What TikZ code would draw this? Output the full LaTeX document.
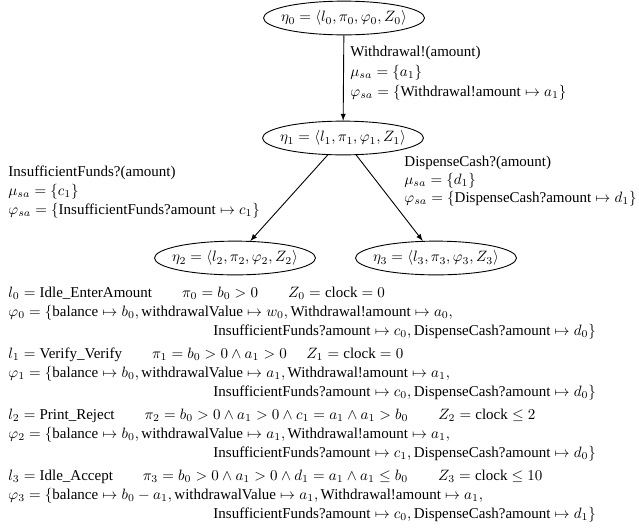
\documentclass[tikz,border=0pt]{standalone}
\usepackage{amsmath}
\usepackage{fontspec}
\setmainfont{Liberation Serif}
\usetikzlibrary{shapes.geometric}

\begin{document}
\begin{tikzpicture}[x=0.6667pt, y=-0.6667pt, >=latex, semithick,
    state/.style={ellipse, draw, inner xsep=-4pt, inner ysep=0pt, minimum height=22.5pt},
    txt/.style={anchor=base west, inner sep=0pt}]
  \useasboundingbox (0,0) rectangle (639,529);

  % states
  \node[state] (s0) at (344,18) {$\eta_0 = \langle l_0, \pi_0, \varphi_0, Z_0 \rangle$};
  \node[state] (s1) at (343,138) {$\eta_1 = \langle l_1, \pi_1, \varphi_1, Z_1 \rangle$};
  \node[state] (s2) at (235,258) {$\eta_2 = \langle l_2, \pi_2, \varphi_2, Z_2 \rangle$};
  \node[state] (s3) at (436,258) {$\eta_3 = \langle l_3, \pi_3, \varphi_3, Z_3 \rangle$};

  \draw[->] (s0) -- (s1);
  \draw[->] (s1) -- (s2);
  \draw[->] (s1) -- (s3);

  % transition labels
  \node[txt] (t01a) at (350,56) {Withdrawal!(amount)};
  \node[txt] (t01b) at (350,76) {$\mu_{sa} = \{a_1\}$};
  \node[txt] (t01c) at (350,96) {$\varphi_{sa} = \{\text{Withdrawal!amount} \mapsto a_1\}$};

  \node[txt] (t12a) at (8,176) {InsufficientFunds?(amount)};
  \node[txt] (t12b) at (8,195) {$\mu_{sa} = \{c_1\}$};
  \node[txt] (t12c) at (8,214) {$\varphi_{sa} = \{\text{InsufficientFunds?amount} \mapsto c_1\}$};

  \node[txt] (t13a) at (404,166) {DispenseCash?(amount)};
  \node[txt] (t13b) at (404,184) {$\mu_{sa} = \{d_1\}$};
  \node[txt] (t13c) at (404,202) {$\varphi_{sa} = \{\text{DispenseCash?amount} \mapsto d_1\}$};

  % state contents
  \node[txt] (e0a) at (8,297) {$l_0 = \text{Idle\_EnterAmount}$\qquad$\pi_0 = b_0 > 0$\qquad$Z_0 = \text{clock} = 0$};
  \node[txt] (e0b) at (8,316) {$\varphi_0 = \{\text{balance} \mapsto b_0, \text{withdrawalValue} \mapsto w_0, \text{Withdrawal!amount} \mapsto a_0,$};
  \node[txt] (e0c) at (213,335) {$\text{InsufficientFunds?amount} \mapsto c_0, \text{DispenseCash?amount} \mapsto d_0\}$};

  \node[txt] (e1a) at (8,358) {$l_1 = \text{Verify\_Verify}$\qquad$\pi_1 = b_0 > 0 \wedge a_1 > 0$\hspace{13pt}$Z_1 = \text{clock} = 0$};
  \node[txt] (e1b) at (8,377) {$\varphi_1 = \{\text{balance} \mapsto b_0, \text{withdrawalValue} \mapsto a_1, \text{Withdrawal!amount} \mapsto a_1,$};
  \node[txt] (e1c) at (213,396) {$\text{InsufficientFunds?amount} \mapsto c_0, \text{DispenseCash?amount} \mapsto d_0\}$};

  \node[txt] (e2a) at (8,419) {$l_2 = \text{Print\_Reject}$\qquad$\pi_2 = b_0 > 0 \wedge a_1 > 0 \wedge c_1 = a_1 \wedge a_1 > b_0$\qquad$Z_2 = \text{clock} \leq 2$};
  \node[txt] (e2b) at (8,438) {$\varphi_2 = \{\text{balance} \mapsto b_0, \text{withdrawalValue} \mapsto a_1, \text{Withdrawal!amount} \mapsto a_1,$};
  \node[txt] (e2c) at (213,457) {$\text{InsufficientFunds?amount} \mapsto c_1, \text{DispenseCash?amount} \mapsto d_0\}$};

  \node[txt] (e3a) at (8,480) {$l_3 = \text{Idle\_Accept}$\qquad$\pi_3 = b_0 > 0 \wedge a_1 > 0 \wedge d_1 = a_1 \wedge a_1 \leq b_0$\qquad$Z_3 = \text{clock} \leq 10$};
  \node[txt] (e3b) at (8,499) {$\varphi_3 = \{\text{balance} \mapsto b_0 - a_1, \text{withdrawalValue} \mapsto a_1, \text{Withdrawal!amount} \mapsto a_1,$};
  \node[txt] (e3c) at (213,518) {$\text{InsufficientFunds?amount} \mapsto c_0, \text{DispenseCash?amount} \mapsto d_1\}$};
\end{tikzpicture}
\end{document}
